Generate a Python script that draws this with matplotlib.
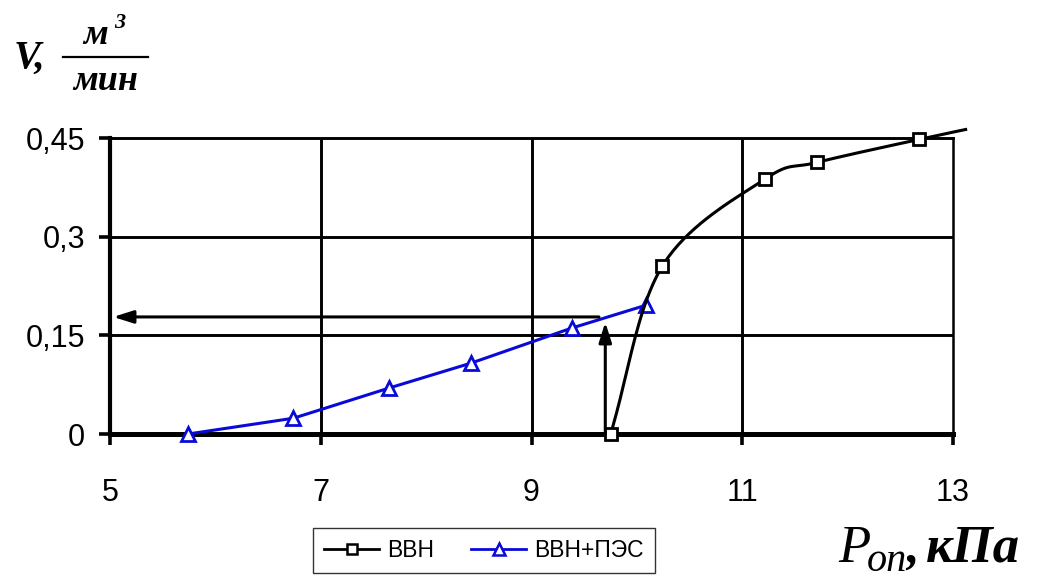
import numpy as np
import matplotlib
matplotlib.use("Agg")
import matplotlib.pyplot as plt
from matplotlib.lines import Line2D

# Flow rate V (m^3/min) against pressure P_op (kPa)
p_vvn = [9.75, 10.24, 11.22, 11.71, 12.68, 13.12]
v_vvn = [0.0, 0.255, 0.388, 0.413, 0.448, 0.463]
vvn_marked = 5  # the last point only carries the line past the frame

p_pes = [5.74, 6.74, 7.65, 8.43, 9.38, 10.09]
v_pes = [0.0, 0.024, 0.070, 0.108, 0.161, 0.196]

x_ticks = [5, 7, 9, 11, 13]
x_tick_labels = ["5", "7", "9", "11", "13"]
y_ticks = [0, 0.15, 0.3, 0.45]
y_tick_labels = ["0", "0,15", "0,3", "0,45"]

# reading arrows: up from the start of ВВН flow, then across to the V axis
arrow_up_x = 9.70
arrow_up_y = [0.0, 0.170]
arrow_left_x = [9.64, 5.03]
arrow_left_y = 0.178

LEGEND_NAMES = ["ВВН", "ВВН+ПЭС"]
BLUE = "#0a0ad8"


def catmull_rom(xs, ys, n=40):
    """Smooth curve through the points, like a spreadsheet 'smoothed line'."""
    pts = np.column_stack([xs, ys]).astype(float)
    ext = np.vstack([2 * pts[0] - pts[1], pts, 2 * pts[-1] - pts[-2]])
    out = []
    for i in range(1, len(ext) - 2):
        p0, p1, p2, p3 = ext[i - 1], ext[i], ext[i + 1], ext[i + 2]
        c1 = p1 + (p2 - p0) / 6.0
        c2 = p2 - (p3 - p1) / 6.0
        t = np.linspace(0, 1, n)[:, None]
        seg = ((1 - t) ** 3) * p1 + 3 * ((1 - t) ** 2) * t * c1 \
            + 3 * (1 - t) * t ** 2 * c2 + t ** 3 * p2
        out.append(seg if i == 1 else seg[1:])
    c = np.vstack(out)
    return c[:, 0], c[:, 1]


fig = plt.figure(figsize=(10.46, 5.78), dpi=100)
ax = fig.add_axes([0.1052, 0.2491, 0.8059, 0.5121])

ax.set_xlim(5, 13)
ax.set_ylim(0, 0.45)

# grid
for xv in [7, 9, 11]:
    ax.axvline(xv, color="black", lw=2.1, zorder=1)
for yv in [0.15, 0.3]:
    ax.axhline(yv, color="black", lw=2.1, zorder=1)

ax.spines["top"].set_linewidth(2.1)
ax.spines["right"].set_linewidth(1.8)
ax.spines["left"].set_linewidth(3.0)
ax.spines["bottom"].set_linewidth(3.6)

ax.set_xticks(x_ticks)
ax.set_xticklabels(x_tick_labels)
ax.set_yticks(y_ticks)
ax.set_yticklabels(y_tick_labels)
ax.tick_params(axis="both", direction="out", length=8, width=2.6,
               labelsize=22, colors="black")
ax.tick_params(axis="x", pad=24)
ax.tick_params(axis="y", pad=10)
for lab in ax.get_xticklabels() + ax.get_yticklabels():
    lab.set_fontfamily("Liberation Sans")

# ВВН+ПЭС: straight segments
ax.plot(p_pes, v_pes, color=BLUE, lw=2.2, marker="^", ms=10,
        markerfacecolor="white", markeredgecolor=BLUE, markeredgewidth=2.0,
        zorder=4, clip_on=False)

# ВВН: smoothed curve, markers on the measured points
sx, sy = catmull_rom(p_vvn, v_vvn)
ax.plot(sx, sy, color="black", lw=2.2, zorder=4, clip_on=False)
ax.plot(p_vvn[:vvn_marked], v_vvn[:vvn_marked], linestyle="none",
        marker="s", ms=8, markerfacecolor="white", markeredgecolor="black",
        markeredgewidth=2.0, zorder=5, clip_on=False)

# arrows
arrow_style = dict(arrowstyle="-|>,head_length=1.2,head_width=0.38",
                   color="black", lw=2.2, shrinkA=0, shrinkB=0)
ax.annotate("", xy=(arrow_up_x, arrow_up_y[1]), xytext=(arrow_up_x, arrow_up_y[0]),
            arrowprops=arrow_style, zorder=6, annotation_clip=False)
ax.annotate("", xy=(arrow_left_x[1], arrow_left_y), xytext=(arrow_left_x[0], arrow_left_y),
            arrowprops=arrow_style, zorder=6, annotation_clip=False)

# legend
handles = [
    Line2D([], [], color="black", lw=2.0, marker="s", ms=7,
           markerfacecolor="white", markeredgecolor="black", markeredgewidth=1.8),
    Line2D([], [], color=BLUE, lw=2.0, marker="^", ms=8,
           markerfacecolor="white", markeredgecolor=BLUE, markeredgewidth=1.8),
]
leg = fig.legend(handles, LEGEND_NAMES, loc="center", ncol=2,
                 bbox_to_anchor=(484 / 1046, 1 - 550.5 / 578), frameon=True,
                 fancybox=False, edgecolor="black", handlelength=2.4,
                 handletextpad=0.35, columnspacing=1.6, borderpad=0.5,
                 borderaxespad=0.0,
                 prop={"family": "Liberation Sans", "size": 16.5})
leg.get_frame().set_linewidth(1.0)

# axis titles
serif_bi = dict(family="Liberation Serif", style="italic", weight="bold", color="black")
serif_i = dict(family="Liberation Serif", style="italic", color="black")

fig.text(14 / 1046, 1 - 68 / 578, "V,", fontsize=29, ha="left", va="baseline", **serif_bi)
fig.text(96 / 1046, 1 - 44 / 578, "м", fontsize=26, ha="center", va="baseline", **serif_bi)
fig.text(114 / 1046, 1 - 28 / 578, "3", fontsize=16, ha="left", va="baseline", **serif_bi)
fig.add_artist(Line2D([63 / 1046, 148 / 1046], [1 - 57 / 578, 1 - 57 / 578],
                      color="black", lw=1.6, transform=fig.transFigure))
fig.text(106 / 1046, 1 - 90 / 578, "мин", fontsize=26, ha="center", va="baseline", **serif_bi)

fig.text(838 / 1046, 1 - 562 / 578, "P", fontsize=38, ha="left", va="baseline", **serif_i)
fig.text(867 / 1046, 1 - 571 / 578, "оп", fontsize=29, ha="left", va="baseline", **serif_i)
fig.text(906 / 1046, 1 - 562 / 578, ",", fontsize=36, ha="left", va="baseline", **serif_bi)
fig.text(926 / 1046, 1 - 562 / 578, "кПа", fontsize=38, ha="left", va="baseline", **serif_bi)

fig.savefig("out.png", dpi=100, facecolor="white")
